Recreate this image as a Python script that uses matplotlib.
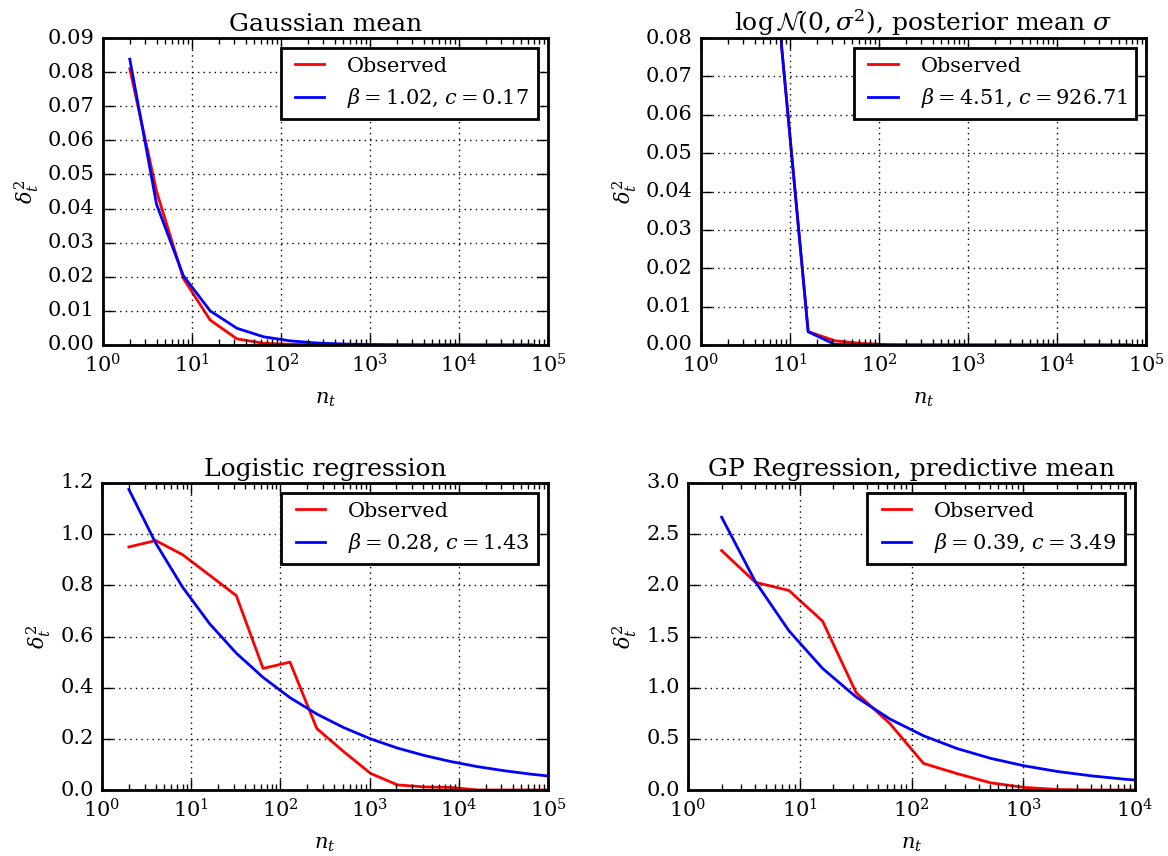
"""
Convergence of delta_t^2 vs n_t, observed and fitted c * n^-beta.
"""
import matplotlib
matplotlib.use("Agg")
import matplotlib.pyplot as plt

plt.style.use('classic')
plt.rcParams['font.family'] = 'serif'
plt.rcParams['font.serif'] = ['DejaVu Serif']
plt.rcParams['mathtext.fontset'] = 'custom'
plt.rcParams['mathtext.rm'] = 'DejaVu Serif'
plt.rcParams['mathtext.it'] = 'DejaVu Serif:italic'
plt.rcParams['mathtext.cal'] = 'cmsy10'
plt.rcParams['axes.unicode_minus'] = False

# Data (n_t = 2, 4, 8, ...)
n_gauss = [2, 4, 8, 16, 32, 64, 128, 256, 512, 1024, 2048, 4096, 8192, 16384, 32768, 65536]
obs_gauss = [0.081, 0.045, 0.0195, 0.0073, 0.0018, 0.0005, 0.0002, 0.0001, 0.00005, 0.00002,
             0.00001, 0.0, 0.0, 0.0, 0.0, 0.0]
fit_gauss = [0.0838, 0.0412, 0.0203, 0.0100, 0.0049, 0.0024, 0.0012, 0.00058, 0.00029, 0.00014,
             0.00007, 0.000035, 0.000017, 0.0000085, 0.0000042, 0.0000021]

n_lognorm = [2, 4, 8, 16, 32, 64, 128, 256, 512, 1024, 2048, 4096, 8192, 16384, 32768, 65536]
obs_lognorm = [3.2, 1.6, 0.0784, 0.0035, 0.0011, 0.0004, 0.0001, 0.00004, 0.00001, 0.0,
               0.0, 0.0, 0.0, 0.0, 0.0, 0.0]
fit_lognorm = [40.6, 1.78, 0.0784, 0.00344, 0.000151, 0.0000066, 0.0000003, 0.0, 0.0, 0.0,
               0.0, 0.0, 0.0, 0.0, 0.0, 0.0]

n_logreg = [2, 4, 8, 16, 32, 64, 128, 256, 512, 1024, 2048, 4096, 8192, 16384, 32768, 65536, 131072]
obs_logreg = [0.95, 0.975, 0.92, 0.84, 0.76, 0.475, 0.50, 0.24, 0.15, 0.065, 0.02, 0.012, 0.01,
              0.0, 0.0, 0.0, 0.0]
fit_logreg = [1.175, 0.965, 0.793, 0.651, 0.535, 0.44, 0.361, 0.297, 0.244, 0.20, 0.164, 0.135,
              0.111, 0.091, 0.075, 0.0616, 0.0506]

n_gp = [2, 4, 8, 16, 32, 64, 128, 256, 512, 1024, 2048, 4096, 8192, 16384]
obs_gp = [2.34, 2.03, 1.95, 1.65, 0.95, 0.65, 0.26, 0.16, 0.07, 0.025, 0.005, 0.0, 0.0, 0.0]
fit_gp = [2.666, 2.037, 1.556, 1.188, 0.908, 0.694, 0.53, 0.405, 0.309, 0.236, 0.18, 0.138,
          0.105, 0.08]

panels = [
    ("Gaussian mean", n_gauss, obs_gauss, fit_gauss,
     r"$\beta = 1.02$, $c = 0.17$", 0.09, 1e5),
    (r"$\log\mathcal{N}(0,\sigma^2)$, posterior mean $\sigma$", n_lognorm, obs_lognorm, fit_lognorm,
     r"$\beta = 4.51$, $c = 926.71$", 0.08, 1e5),
    ("Logistic regression", n_logreg, obs_logreg, fit_logreg,
     r"$\beta = 0.28$, $c = 1.43$", 1.2, 1e5),
    ("GP Regression, predictive mean", n_gp, obs_gp, fit_gp,
     r"$\beta = 0.39$, $c = 3.49$", 3.0, 1e4),
]

W, H = 1168, 856
boxes = [(103, 38, 548, 345), (701, 38, 1146, 345),
         (102, 483, 548, 790), (688, 483, 1135, 790)]

fig = plt.figure(figsize=(W / 100, H / 100), dpi=100)
fig.patch.set_facecolor('white')

for (title, n, obs, fit, fitlab, ymax, xmax), (x0, y0, x1, y1) in zip(panels, boxes):
    ax = fig.add_axes([x0 / W, 1 - y1 / H, (x1 - x0) / W, (y1 - y0) / H])
    ax.plot(n, obs, color='red', lw=2, label='Observed')
    ax.plot(n, fit, color='blue', lw=2, label=fitlab)
    ax.set_xscale('log')
    ax.set_xlim(1, xmax)
    ax.set_ylim(0, ymax)
    ax.grid(True, color='k', linestyle=':', linewidth=1)
    ax.set_title(title, fontsize=18, pad=5)
    ax.set_xlabel(r"$n_t$", fontsize=15, labelpad=10)
    ax.set_ylabel(r"$\delta_t^2$", fontsize=15)
    ax.tick_params(labelsize=15, which='major', length=8, width=1, pad=6)
    ax.tick_params(which='minor', length=4, width=1)
    for sp in ax.spines.values():
        sp.set_linewidth(2)
    leg = ax.legend(loc='upper right', fontsize=15, fancybox=False, handlelength=2.0,
                    borderaxespad=0.5)
    leg.get_frame().set_linewidth(2)
    leg.get_frame().set_edgecolor('black')

fig.savefig('out.png', dpi=100, facecolor='white')
